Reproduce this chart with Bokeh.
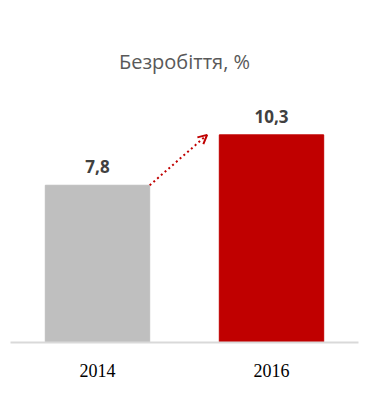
from bokeh.plotting import figure
from bokeh.models import ColumnDataSource, LabelSet, Range1d, Arrow, OpenHead, FixedTicker
from bokeh.core.properties import value
from bokeh.embed import file_html
from bokeh.resources import INLINE

years = ["2014", "2016"]
values = [7.8, 10.3]
labels = ["7,8", "10,3"]
colors = ["#bfbfbf", "#c00000"]

xs = [0.5, 1.5]
bar_w = 0.6
src = ColumnDataSource(dict(x=xs, top=values, lab=labels, color=colors))

p = figure(width=382, height=401, output_backend="svg", toolbar_location=None,
           x_range=Range1d(0, 2), y_range=Range1d(0, 12.5),
           min_border_left=10, min_border_right=24, min_border_top=90, min_border_bottom=59,
           title="Безробіття, %")
p.outline_line_color = None
p.background_fill_color = "white"
p.border_fill_color = "white"
p.grid.visible = False
p.yaxis.visible = False

p.title.text_font = "Open Sans"
p.title.text_font_style = "normal"
p.title.text_font_size = "20px"
p.title.text_color = "#595959"
p.title.align = "center"
p.title.standoff = 31

p.vbar(x="x", top="top", width=bar_w, color="color", source=src)

p.add_layout(LabelSet(x="x", y="top", text="lab", source=src, text_align="center",
                      text_baseline="bottom", y_offset=12, text_font=value("Open Sans"),
                      text_font_style="bold", text_font_size="17px", text_color="#404040"))

# dotted arrow from gray bar top-right to red bar top-left
x0 = xs[0] + bar_w / 2
x1 = xs[1] - bar_w / 2 - 0.07
p.add_layout(Arrow(x_start=x0, y_start=values[0], x_end=x1, y_end=values[1],
                   line_color="#c00000", line_width=2, line_dash="2 3",
                   end=OpenHead(size=9, line_color="#c00000", line_width=2)))

ax = p.xaxis[0]
ax.ticker = FixedTicker(ticks=xs)
ax.major_label_overrides = {xs[0]: years[0], xs[1]: years[1]}
ax.major_tick_line_color = None
ax.minor_tick_line_color = None
ax.axis_line_color = "#d9d9d9"
ax.axis_line_width = 2
ax.major_label_text_font = "Liberation Serif"
ax.major_label_text_font_size = "18px"
ax.major_label_text_color = "#000000"
ax.major_label_standoff = 15

open("out.html", "w").write(file_html(p, INLINE))
